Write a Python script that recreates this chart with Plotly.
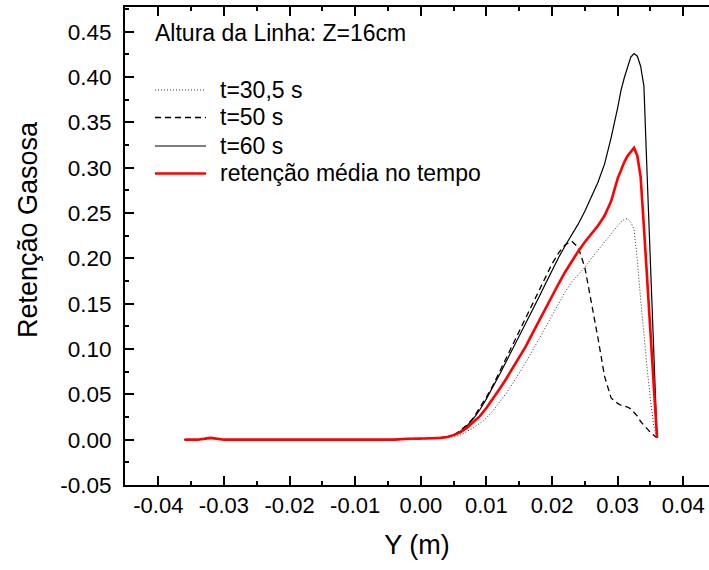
import plotly.graph_objects as go

# Shared radial positions (m)
Y_POS = [-0.036, -0.034, -0.032, -0.030, -0.028, -0.026, -0.024, -0.022, -0.020, -0.018,
         -0.016, -0.014, -0.012, -0.010, -0.008, -0.006, -0.004, -0.002, 0.000, 0.002,
         0.003, 0.004, 0.005, 0.006, 0.007, 0.008, 0.009, 0.010, 0.011, 0.012,
         0.013, 0.014, 0.015, 0.016, 0.017, 0.018, 0.019, 0.020, 0.021, 0.022,
         0.023, 0.024, 0.025, 0.026, 0.027, 0.028, 0.029, 0.030, 0.0305, 0.031,
         0.0315, 0.032, 0.0325, 0.033, 0.0335, 0.034, 0.0345, 0.035, 0.0355, 0.036]

T_30_5 = [0.000, 0.000, 0.001, 0.000, 0.000, 0.000, 0.000, 0.000, 0.000, 0.000,
          0.000, 0.000, 0.000, 0.000, 0.000, 0.000, 0.000, 0.001, 0.001, 0.001,
          0.002, 0.002, 0.003, 0.005, 0.009, 0.013, 0.018, 0.024, 0.032, 0.041,
          0.051, 0.062, 0.073, 0.085, 0.098, 0.111, 0.124, 0.138, 0.151, 0.163,
          0.174, 0.182, 0.190, 0.200, 0.209, 0.219, 0.228, 0.236, 0.240, 0.243,
          0.244, 0.240, 0.232, 0.198, 0.155, 0.112, 0.078, 0.044, 0.015, 0.002]

T_50 = [0.000, 0.000, 0.002, 0.000, 0.000, 0.000, 0.000, 0.000, 0.000, 0.000,
        0.000, 0.000, 0.000, 0.000, 0.000, 0.000, 0.000, 0.001, 0.001, 0.002,
        0.002, 0.003, 0.005, 0.010, 0.016, 0.024, 0.035, 0.047, 0.060, 0.075,
        0.090, 0.105, 0.120, 0.135, 0.150, 0.165, 0.180, 0.194, 0.206, 0.215,
        0.219, 0.212, 0.190, 0.152, 0.112, 0.070, 0.046, 0.040, 0.038, 0.037,
        0.036, 0.034, 0.030, 0.026, 0.020, 0.016, 0.011, 0.008, 0.005, 0.002]

T_60 = [0.000, 0.000, 0.002, 0.000, 0.000, 0.000, 0.000, 0.000, 0.000, 0.000,
        0.000, 0.000, 0.000, 0.000, 0.000, 0.000, 0.000, 0.001, 0.001, 0.002,
        0.002, 0.003, 0.005, 0.009, 0.015, 0.023, 0.033, 0.045, 0.058, 0.072,
        0.086, 0.100, 0.114, 0.128, 0.142, 0.157, 0.172, 0.187, 0.201, 0.214,
        0.226, 0.238, 0.252, 0.268, 0.284, 0.304, 0.333, 0.366, 0.385, 0.399,
        0.412, 0.422, 0.426, 0.423, 0.412, 0.390, 0.290, 0.190, 0.095, 0.002]

MEDIA = [0.000, 0.000, 0.002, 0.000, 0.000, 0.000, 0.000, 0.000, 0.000, 0.000,
         0.000, 0.000, 0.000, 0.000, 0.000, 0.000, 0.000, 0.001, 0.001, 0.0015,
         0.002, 0.003, 0.005, 0.008, 0.013, 0.019, 0.026, 0.035, 0.045, 0.056,
         0.067, 0.079, 0.090, 0.103, 0.117, 0.131, 0.145, 0.159, 0.172, 0.185,
         0.197, 0.208, 0.218, 0.227, 0.236, 0.247, 0.263, 0.288, 0.298, 0.306,
         0.313, 0.318, 0.322, 0.313, 0.290, 0.235, 0.175, 0.118, 0.060, 0.002]

SERIES_NAMES = ["t=30,5 s", "t=50 s", "t=60 s", "retenção média no tempo"]

X_TICKS = [-0.04, -0.03, -0.02, -0.01, 0.00, 0.01, 0.02, 0.03, 0.04]
X_LABELS = ["-0.04", "-0.03", "-0.02", "-0.01", "0.00", "0.01", "0.02", "0.03", "0.04"]
Y_TICKS = [-0.05, 0.00, 0.05, 0.10, 0.15, 0.20, 0.25, 0.30, 0.35, 0.40, 0.45]
Y_LABELS = ["-0.05", "0.00", "0.05", "0.10", "0.15", "0.20", "0.25", "0.30", "0.35", "0.40", "0.45"]

FONT = "Liberation Sans, Arial, sans-serif"

# plot area geometry in pixels
L, R, T, B = 125, 709, 7, 485
PW, PH = R - L, B - T


def px(xp):
    return (xp - L) / PW


def py(yp):
    return (B - yp) / PH


STYLES = [dict(color="#333333", width=1, dash="1px,2px"),
          dict(color="black", width=1.3, dash="6px,4px"),
          dict(color="black", width=1.2),
          dict(color="#ff0000", width=2.6)]
SERIES = [T_30_5, T_50, T_60, MEDIA]

fig = go.Figure()
for name, vals, st in zip(SERIES_NAMES, SERIES, STYLES):
    fig.add_trace(go.Scatter(x=Y_POS, y=vals, mode="lines", name=name, line=st,
                             showlegend=False))

# manual legend (samples + labels)
ROW_Y = [90, 117.5, 146, 173.5]
shapes = []
annotations = []
for name, st, ry in zip(SERIES_NAMES, STYLES, ROW_Y):
    shapes.append(dict(type="line", xref="paper", yref="paper",
                       x0=px(155), x1=px(206), y0=py(ry), y1=py(ry), line=st))
    annotations.append(dict(text=name, xref="paper", yref="paper", x=px(218), y=py(ry),
                            xanchor="left", yanchor="middle", showarrow=False,
                            font=dict(size=23, family=FONT)))

annotations.append(dict(text="Altura da Linha: Z=16cm", xref="paper", yref="paper",
                        x=px(153), y=py(33), xanchor="left", yanchor="middle",
                        showarrow=False, font=dict(size=23, family=FONT)))
annotations.append(dict(text="Retenção Gasosa", xref="paper", yref="paper",
                        x=px(28), y=py(230), xanchor="center", yanchor="middle",
                        textangle=-90, showarrow=False, font=dict(size=27, family=FONT)))

fig.update_layout(
    width=709, height=570,
    margin=dict(l=L, r=0, t=T, b=570 - B),
    paper_bgcolor="white", plot_bgcolor="white",
    font=dict(family=FONT, color="black"),
    showlegend=False,
    shapes=shapes,
    annotations=annotations,
    xaxis=dict(range=[-0.04508, 0.04392], tickvals=X_TICKS, ticktext=X_LABELS,
               ticks="inside", ticklen=9, tickwidth=1.5, tickcolor="black",
               showline=True, linewidth=2, linecolor="black", mirror="allticks",
               showgrid=False, zeroline=False,
               tickfont=dict(size=22, family=FONT),
               minor=dict(ticks="inside", ticklen=4, dtick=0.005, tick0=0, tickcolor="black"),
               title=dict(text="Y (m)", font=dict(size=27, family=FONT), standoff=18)),
    yaxis=dict(range=[-0.05, 0.4773], tickvals=Y_TICKS, ticktext=Y_LABELS,
               ticks="inside", ticklen=9, tickwidth=1.5, tickcolor="black",
               showline=True, linewidth=2, linecolor="black", mirror=False,
               showgrid=False, zeroline=False, ticklabelstandoff=7,
               tickfont=dict(size=22.5, family=FONT),
               minor=dict(ticks="inside", ticklen=4, dtick=0.025, tick0=0, tickcolor="black")),
)

fig.write_html("out.html")
